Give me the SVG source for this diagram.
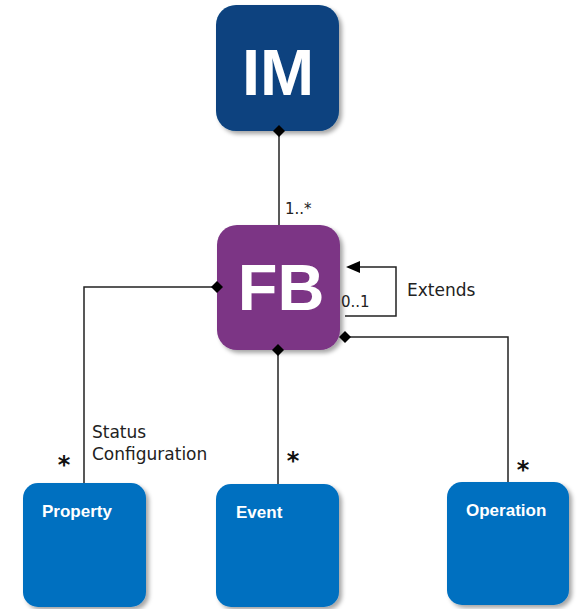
<svg xmlns="http://www.w3.org/2000/svg" width="578" height="609" viewBox="0 0 578 609">
<defs>
<filter id="sh" x="-10%" y="-10%" width="130%" height="130%">
<feDropShadow dx="3" dy="3" stdDeviation="2" flood-color="#000" flood-opacity="0.35"/>
</filter>
</defs>
<style>
.big{font-family:"Liberation Sans",Arial,sans-serif;font-weight:bold;font-size:65px;fill:#fff;text-anchor:middle}
.nl{font-family:"Liberation Sans",Arial,sans-serif;font-weight:bold;font-size:17px;fill:#fff}
.lbl{font-family:"DejaVu Sans",sans-serif;font-size:17px;fill:#222}
.sm{font-family:"DejaVu Sans",sans-serif;font-size:15px;fill:#222}
.star{font-family:"DejaVu Sans",sans-serif;font-weight:bold;font-size:24px;fill:#111;text-anchor:middle}
.ln{fill:none;stroke:#222;stroke-width:1.5}
.dia{fill:#000}
.blue{fill:#0070c0}
</style>
<rect width="578" height="609" fill="#fff"/>
<g id="IM">
<rect x="216" y="5" width="123" height="126" rx="20" fill="#08427f" filter="url(#sh)"/>
<text class="big" x="278" y="95">IM</text>
</g>
<g id="FB">
<rect x="217" y="225" width="123" height="125" rx="20" fill="#7b3585" filter="url(#sh)"/>
<text class="big" x="281" y="310">FB</text>
</g>
<g id="Property">
<rect class="blue" x="23" y="483" width="123" height="124" rx="15" filter="url(#sh)"/>
<text class="nl" x="42" y="517">Property</text>
</g>
<g id="Event">
<rect class="blue" x="216" y="484" width="123" height="123" rx="15" filter="url(#sh)"/>
<text class="nl" x="236" y="518">Event</text>
</g>
<g id="Operation">
<rect class="blue" x="447" y="482" width="122" height="123" rx="15" filter="url(#sh)"/>
<text class="nl" x="466" y="516">Operation</text>
</g>
<g id="connectors">
<path class="ln" d="M279,131 V225"/>
<path class="ln" d="M217,287 H84 V483"/>
<path class="ln" d="M278,350 V484"/>
<path class="ln" d="M345,337 H508 V482"/>
<path class="ln" d="M359,267 H396 V316 H345"/>
<polygon class="dia" points="279,125 285,131 279,137 273,131"/>
<polygon class="dia" points="211,287 217,281 223,287 217,293"/>
<polygon class="dia" points="278,344 284,350 278,356 272,350"/>
<polygon class="dia" points="339,337 345,331 351,337 345,343"/>
<polygon class="dia" points="346,267 360,261 360,273"/>
<text class="sm" x="285" y="214">1..*</text>
<text class="sm" x="341" y="307">0..1</text>
<text class="lbl" x="407" y="296">Extends</text>
<text class="lbl" x="92" y="438">Status</text>
<text class="lbl" x="92" y="460">Configuration</text>
<text class="star" x="64" y="473">*</text>
<text class="star" x="293" y="469">*</text>
<text class="star" x="523" y="478">*</text>
</g>
</svg>
